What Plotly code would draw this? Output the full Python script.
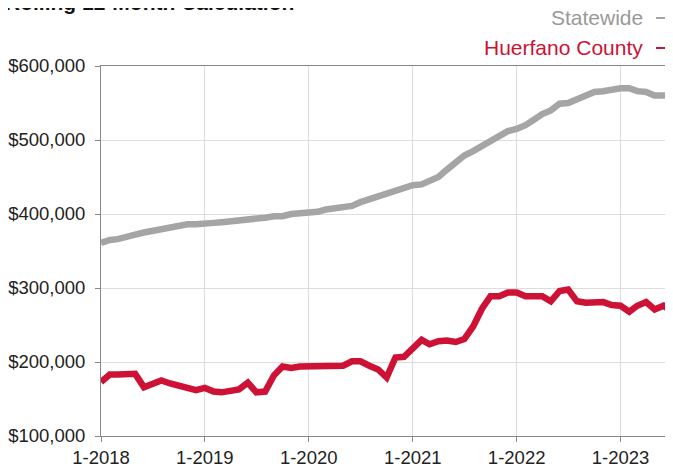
import plotly.graph_objects as go
import pandas as pd

months = pd.date_range("2018-01-01", "2023-07-01", freq="MS").strftime("%Y-%m-%d").tolist()

statewide = [361, 365, 366, 370, 372, 375, 377, 380, 382, 385, 386, 386,
             386, 388, 389, 390, 391, 392, 392, 395, 397, 397, 400, 401,
             401, 403, 406, 407, 408, 411, 416, 420, 425, 429, 432, 435,
             439, 440, 444, 450, 460, 470, 479, 485, 492, 499, 505, 512,
             515, 520, 527, 535, 540, 549, 550, 555, 560, 565, 566, 569,
             570, 570, 566, 565, 560, 560, 560]
statewide = [v * 1000 for v in statewide]

huerfano = [173, 183, 183, 183, 184, 166, 171, 175, 171, 168, 165, 162,
            165, 160, 159, 161, 163, 172, 159, 160, 182, 194, 192, 194,
            194, 194, 195, 195, 195, 201, 201, 195, 190, 179, 206, 207,
            218, 230, 224, 228, 229, 227, 231, 248, 272, 289, 289, 294,
            294, 289, 289, 289, 282, 296, 298, 282, 280, 281, 281, 277,
            276, 268, 276, 281, 271, 276, 268]
huerfano = [v * 1000 for v in huerfano]

tick_dates = ["2018-01-01", "2019-01-01", "2020-01-01", "2021-01-01", "2022-01-01", "2023-01-01"]
tick_labels = ["1-2018", "1-2019", "1-2020", "1-2021", "1-2022", "1-2023"]
y_ticks = [100000, 200000, 300000, 400000, 500000, 600000]

GRAY = "#A5A5A5"
RED = "#CD1236"
FONT = "Liberation Sans, Arial, Helvetica, sans-serif"

# page pixel -> paper helpers (plot area on page: x 101..672, y 66..436)
def px(x):
    return (x - 101) / 571

def py(y):
    return (436 - y) / 370

fig = go.Figure()
fig.add_trace(go.Scatter(x=months, y=statewide, mode="lines", name="Statewide",
                         line=dict(color=GRAY, width=6.5), showlegend=False))
fig.add_trace(go.Scatter(x=months, y=huerfano, mode="lines", name="Huerfano County",
                         line=dict(color=RED, width=6.5), showlegend=False))

fig.update_layout(
    width=665, height=460,
    margin=dict(l=93, r=1, t=58, b=32),
    paper_bgcolor="white", plot_bgcolor="white",
    font=dict(family=FONT, size=18, color="#222222"),
    xaxis=dict(
        range=["2018-01-01", "2023-07-01"],
        tickvals=tick_dates, ticktext=tick_labels,
        showgrid=True, gridcolor="#DDDDDD", gridwidth=1,
        showline=True, linecolor="#888888", linewidth=1, mirror=True,
        ticks="outside", ticklen=5, tickcolor="#888888",
        tickfont=dict(size=18.5, color="#222222"),
        zeroline=False, automargin=False,
    ),
    yaxis=dict(
        range=[100000, 600000],
        tickvals=y_ticks, tickformat="$,.0f",
        showgrid=True, gridcolor="#DDDDDD", gridwidth=1,
        showline=True, linecolor="#888888", linewidth=1, mirror=True,
        ticks="outside", ticklen=5, tickcolor="#888888",
        ticklabelstandoff=6,
        tickfont=dict(size=18.5, color="#222222"),
        zeroline=False, automargin=False,
    ),
    annotations=[
        dict(text="<b>Rolling 12-Month Calculation</b>", xref="paper", yref="paper",
             x=px(3), y=py(16), xanchor="left", yanchor="bottom",
             showarrow=False, font=dict(size=21, color="#111111", family=FONT)),
        dict(text="Statewide", xref="paper", yref="paper",
             x=px(645), y=py(17), xanchor="right", yanchor="middle",
             showarrow=False, font=dict(size=21, color="#999999", family=FONT)),
        dict(text="Huerfano County", xref="paper", yref="paper",
             x=px(645), y=py(47), xanchor="right", yanchor="middle",
             showarrow=False, font=dict(size=21, color=RED, family=FONT)),
    ],
    shapes=[
        dict(type="line", xref="paper", yref="paper", x0=px(656), x1=px(672),
             y0=py(18), y1=py(18), line=dict(color=GRAY, width=2)),
        dict(type="line", xref="paper", yref="paper", x0=px(656), x1=px(672),
             y0=py(48), y1=py(48), line=dict(color=RED, width=2)),
    ],
)

fig.write_html("out.html")
